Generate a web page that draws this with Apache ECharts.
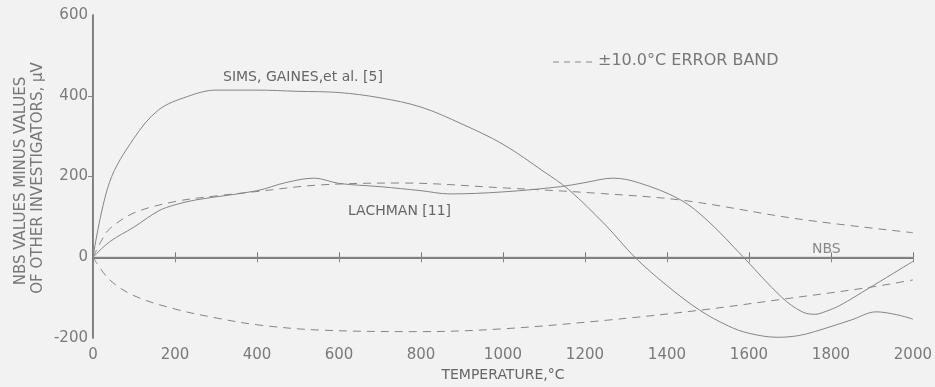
<!DOCTYPE html>
<html>
<head>
<meta charset="utf-8">
<script src="https://cdn.jsdelivr.net/npm/echarts@6/dist/echarts.min.js"></script>
<style>
html,body{margin:0;padding:0;background:#f2f2f2;}
#c{width:935px;height:387px;}
</style>
</head>
<body>
<div id="c"></div>
<script>
// Temperature (°C) / NBS minus other investigators (µV)
const xTicks = [0, 200, 400, 600, 800, 1000, 1200, 1400, 1600, 1800, 2000];
const yTicks = [-200, 0, 200, 400, 600];

const simsT = [0, 40, 100, 160, 230, 300, 400, 500, 600, 700, 800, 900, 1000, 1100, 1160, 1250, 1322, 1400, 1480, 1550, 1600, 1670, 1720, 1760, 1850, 1910, 1960, 2000];
const simsV = [0, 185, 295, 365, 398, 414, 414, 411, 408, 395, 372, 330, 280, 212, 168, 80, 0, -70, -131, -170, -188, -198, -194, -184, -155, -135, -142, -153];

const lachT = [0, 40, 100, 160, 200, 250, 400, 470, 540, 600, 700, 800, 870, 1000, 1140, 1200, 1268, 1330, 1432, 1500, 1585, 1680, 1730, 1761, 1790, 1822, 1895, 2000];
const lachV = [0, 38, 75, 115, 130, 142, 165, 185, 196, 183, 175, 165, 157, 162, 175, 185, 196, 185, 143, 90, 2, -99, -135, -141, -133, -119, -75, -10];

const bandUpT = [0, 20, 40, 100, 200, 300, 400, 550, 750, 1000, 1240, 1440, 1720, 2000];
const bandUpV = [0, 40, 70, 110, 138, 152, 163, 179, 184, 172, 158, 141, 95, 61];

const bandLoT = [0, 40, 100, 200, 300, 400, 550, 800, 1000, 1240, 1480, 1680, 1890, 2000];
const bandLoV = [0, -55, -95, -128, -150, -167, -180, -184, -177, -157, -131, -104, -75, -56];

const nbsT = [0, 2000];
const nbsV = [0, 0];

const zip = (a, b) => a.map((v, i) => [v, b[i]]);

const FONT = 'DejaVu Sans';
const TXT = '#7a7a7a';
const LINE = '#858585';

const chart = echarts.init(document.getElementById('c'));
const lineSeries = (data, dashed, name) => ({
  name: name, type: 'line', data: data, smooth: 0.35, showSymbol: false, silent: true,
  lineStyle: { color: LINE, width: 1, type: dashed ? [8, 6] : 'solid' }
});

chart.setOption({
  backgroundColor: '#f2f2f2',
  animation: false,
  grid: { left: 93, right: 22, top: 15, bottom: 41 },
  xAxis: [{
    type: 'value', min: 0, max: 2000, interval: 200,
    axisLine: { lineStyle: { color: '#555', width: 1.5 } },
    axisTick: { inside: true, length: 5, lineStyle: { color: '#777' } },
    splitLine: { show: false },
    axisLabel: { color: TXT, fontFamily: FONT, fontSize: 15, margin: 10,
      formatter: v => xTicks.includes(v) ? String(v) : '' },
    name: 'TEMPERATURE,°C', nameLocation: 'middle', nameGap: 29,
    nameTextStyle: { color: '#666', fontFamily: FONT, fontSize: 14 }
  }, {
    type: 'value', min: 0, max: 2000, interval: 200, position: 'top',
    axisLine: { show: true, lineStyle: { color: '#888', width: 1 } },
    axisTick: { inside: true, length: 5, lineStyle: { color: '#888' } },
    axisLabel: { show: false }, splitLine: { show: false }
  }],
  yAxis: [{
    type: 'value', min: -200, max: 600, interval: 200,
    axisLine: { show: true, lineStyle: { color: '#555', width: 1.5 } },
    axisTick: { show: false },
    splitLine: { show: false },
    axisLabel: { color: TXT, fontFamily: FONT, fontSize: 15, margin: 5,
      formatter: v => yTicks.includes(v) ? String(v) : '' }
  }, {
    type: 'value', min: -200, max: 600, interval: 200, position: 'right',
    axisLine: { show: true, lineStyle: { color: '#888', width: 1 } },
    axisTick: { inside: true, length: 5, customValues: [200, 400], lineStyle: { color: '#888' } },
    axisLabel: { show: false }, splitLine: { show: false }
  }],
  series: [
    lineSeries(zip(nbsT, nbsV), false, 'NBS'),
    lineSeries(zip(simsT, simsV), false, 'SIMS'),
    lineSeries(zip(lachT, lachV), false, 'LACHMAN'),
    lineSeries(zip(bandUpT, bandUpV), true, 'band+'),
    lineSeries(zip(bandLoT, bandLoV), true, 'band-')
  ],
  graphic: [
    { type: 'text', left: 223, top: 70, style: { text: 'SIMS, GAINES,et al. [5]', fill: '#666', font: '14px "DejaVu Sans"' } },
    { type: 'text', left: 348, top: 204, style: { text: 'LACHMAN [11]', fill: '#666', font: '14px "DejaVu Sans"' } },
    { type: 'text', left: 812, top: 242, style: { text: 'NBS', fill: '#888', font: '14px "DejaVu Sans"' } },
    { type: 'line', shape: { x1: 553, y1: 62, x2: 594, y2: 62 }, style: { stroke: '#888', lineWidth: 1, lineDash: [6, 5] } },
    { type: 'text', left: 598, top: 53, style: { text: '±10.0°C ERROR BAND', fill: '#777', font: '16px "DejaVu Sans"' } },
    { type: 'text', x: 21, y: 181, rotation: Math.PI / 2,
      style: { text: 'NBS VALUES MINUS VALUES', fill: '#777', font: '15px "DejaVu Sans"', align: 'center', verticalAlign: 'middle' } },
    { type: 'text', x: 38, y: 178, rotation: Math.PI / 2,
      style: { text: 'OF OTHER INVESTIGATORS, μV', fill: '#777', font: '15px "DejaVu Sans"', align: 'center', verticalAlign: 'middle' } }
  ]
});
</script>
</body>
</html>
